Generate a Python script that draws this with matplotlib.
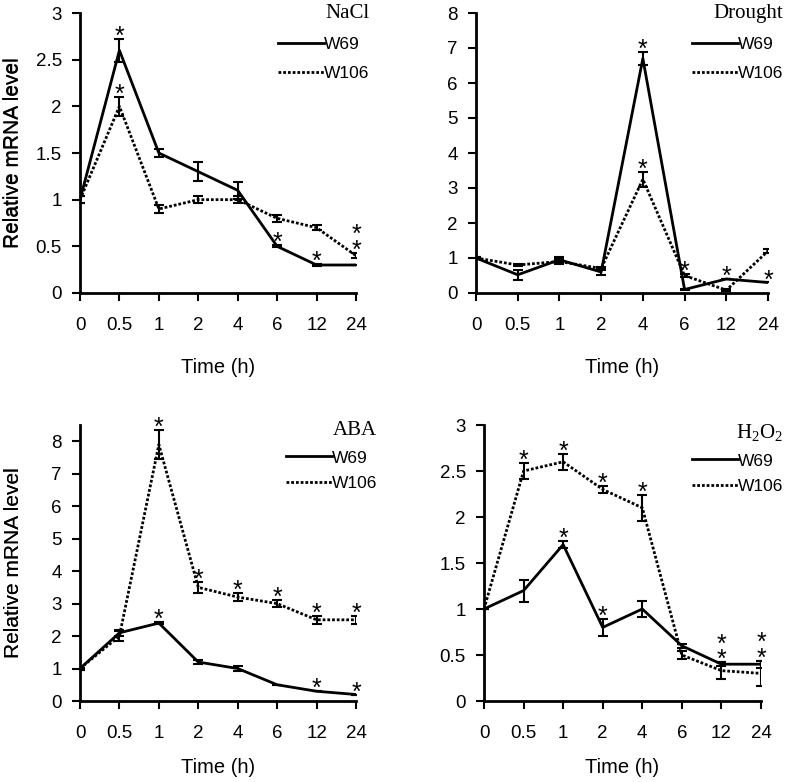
import matplotlib
matplotlib.use("Agg")
import matplotlib.pyplot as plt
import numpy as np
from collections import Counter

plt.rcParams['font.family'] = ['Liberation Sans', 'DejaVu Sans']
plt.rcParams['mathtext.fontset'] = 'custom'
plt.rcParams['mathtext.rm'] = 'Liberation Serif'
plt.rcParams['mathtext.it'] = 'Liberation Serif:italic'

times = ['0', '0.5', '1', '2', '4', '6', '12', '24']
series_names = ['W69', 'W106']

# NaCl
nacl_w69 = [1.0, 2.6, 1.5, 1.3, 1.1, 0.5, 0.3, 0.3]
nacl_w69_err = [0.04, 0.12, 0.04, 0.1, 0.09, 0.01, 0.01, 0.0]
nacl_w106 = [1.0, 2.0, 0.9, 1.0, 1.0, 0.8, 0.7, 0.4]
nacl_w106_err = [0.04, 0.1, 0.04, 0.04, 0.04, 0.04, 0.03, 0.03]
# stars: (time index, series); repeated entries stack
nacl_stars = [(1, 'W69'), (1, 'W106'), (5, 'W69'), (6, 'W69'), (7, 'W106'), (7, 'W106')]

# Drought
dro_w69 = [1.0, 0.52, 0.95, 0.6, 6.7, 0.1, 0.4, 0.3]
dro_w69_err = [0.04, 0.14, 0.07, 0.1, 0.18, 0.02, 0.0, 0.0]
dro_w106 = [1.0, 0.8, 0.9, 0.7, 3.25, 0.5, 0.08, 1.2]
dro_w106_err = [0.03, 0.04, 0.06, 0.04, 0.22, 0.03, 0.02, 0.06]
dro_stars = [(4, 'W69'), (4, 'W106'), (5, 'W106'), (6, 'W69'), (7, 'W69')]

# ABA
aba_w69 = [1.0, 2.1, 2.4, 1.2, 1.0, 0.5, 0.3, 0.2]
aba_w69_err = [0.03, 0.1, 0.04, 0.07, 0.07, 0.0, 0.0, 0.0]
aba_w106 = [1.0, 2.0, 7.9, 3.5, 3.2, 3.0, 2.5, 2.5]
aba_w106_err = [0.03, 0.15, 0.45, 0.17, 0.12, 0.12, 0.12, 0.12]
aba_stars = [(2, 'W106'), (3, 'W106'), (4, 'W106'), (5, 'W106'), (6, 'W106'), (7, 'W106'),
             (2, 'W69'), (6, 'W69'), (7, 'W69')]

# H2O2
h2o2_w69 = [1.0, 1.2, 1.7, 0.8, 1.0, 0.6, 0.4, 0.4]
h2o2_w69_err = [0.0, 0.12, 0.04, 0.09, 0.09, 0.02, 0.02, 0.04]
h2o2_w106 = [1.0, 2.5, 2.6, 2.3, 2.1, 0.5, 0.33, 0.3]
h2o2_w106_err = [0.0, 0.09, 0.09, 0.04, 0.14, 0.04, 0.09, 0.14]
h2o2_stars = [(1, 'W106'), (2, 'W106'), (3, 'W106'), (4, 'W106'),
              (2, 'W69'), (3, 'W69'), (6, 'W69'), (6, 'W69'), (7, 'W69'), (7, 'W69')]

panels = [
    dict(title='NaCl', w69=nacl_w69, e69=nacl_w69_err, w106=nacl_w106, e106=nacl_w106_err,
         stars=nacl_stars, ylim=3, yticks=[0, 0.5, 1, 1.5, 2, 2.5, 3], rect=[80, 13, 356, 293],
         ylabels=['0', '0.5', '1', '1.5', '2', '2.5', '3'], leg=(369, 4, 0.8), xl=362),
    dict(title='Drought', w69=dro_w69, e69=dro_w69_err, w106=dro_w106, e106=dro_w106_err,
         stars=dro_stars, ylim=8, yticks=list(range(9)), rect=[476, 13, 768, 293],
         ylabels=[str(i) for i in range(9)], leg=(783, 4, 0.8), xl=362),
    dict(title='ABA', w69=aba_w69, e69=aba_w69_err, w106=aba_w106, e106=aba_w106_err,
         stars=aba_stars, ylim=8.5, yticks=list(range(9)), rect=[80, 425, 356, 701],
         ylabels=[str(i) for i in range(9)], leg=(377, 421, 0.6), xl=762),
    dict(title=r'$\mathrm{H_2O_2}$', w69=h2o2_w69, e69=h2o2_w69_err, w106=h2o2_w106, e106=h2o2_w106_err,
         stars=h2o2_stars, ylim=3, yticks=[0, 0.5, 1, 1.5, 2, 2.5, 3], rect=[484, 425, 761, 701],
         ylabels=['0', '0.5', '1', '1.5', '2', '2.5', '3'], leg=(783, 422, 0.6), xl=762),
]

W, H = 790, 782
fig = plt.figure(figsize=(W / 100, H / 100), dpi=100)

for p in panels:
    x0, y0, x1, y1 = p['rect']
    ax = fig.add_axes([x0 / W, 1 - y1 / H, (x1 - x0) / W, (y1 - y0) / H])
    x = np.arange(len(times))
    l1, = ax.plot(x, p['w69'], color='black', lw=2.0, ls='-', label='W69', zorder=3)
    l2, = ax.plot(x, p['w106'], color='black', lw=2.0, ls=(0, (1, 0.7)), label='W106', zorder=3)
    ax.errorbar(x, p['w69'], yerr=p['e69'], fmt='none', ecolor='black', elinewidth=1.5,
                capsize=3.5, capthick=1.5, zorder=4)
    ax.errorbar(x, p['w106'], yerr=p['e106'], fmt='none', ecolor='black', elinewidth=1.5,
                capsize=3.5, capthick=1.5, zorder=4)
    vals = {'W69': (p['w69'], p['e69']), 'W106': (p['w106'], p['e106'])}
    for (idx, s), n in Counter(p['stars']).items():
        v, e = vals[s]
        ax.annotate('\n'.join(['*'] * n), xy=(idx, v[idx] + e[idx]), xytext=(0, -3.5),
                    textcoords='offset points', ha='center', va='baseline', fontsize=18,
                    linespacing=0.55, annotation_clip=False, zorder=5)
    ax.set_xlim(0, len(times) - 1)
    ax.set_ylim(0, p['ylim'])
    ax.set_xticks(x)
    ax.set_xticklabels(times)
    ax.set_yticks(p['yticks'])
    ax.set_yticklabels(p['ylabels'])
    for sp in ['top', 'right']:
        ax.spines[sp].set_visible(False)
    for sp in ['left', 'bottom']:
        ax.spines[sp].set_linewidth(2.0)
    ax.tick_params(axis='both', labelsize=13.5, width=1.5, length=6, direction='out')
    ax.tick_params(axis='x', pad=11)
    ax.tick_params(axis='y', pad=7)
    ax.set_xlabel('Time (h)', fontsize=14.5, va='top')
    ax.xaxis.set_label_coords(0.5, -(p['xl'] - 4 - y1) / (y1 - y0))
    ax.set_ylabel('Relative mRNA level', fontsize=15, va='center')
    ax.yaxis.set_label_coords(-(x0 - 13) / (x1 - x0), 0.5)
    lx, ly, lsp = p['leg']
    leg = ax.legend(handles=[l1, l2], title=p['title'], loc='upper right', frameon=False,
                    bbox_to_anchor=(lx / W, 1 - ly / H), bbox_transform=fig.transFigure,
                    borderpad=0, borderaxespad=0, fontsize=12.5, handlelength=2.6,
                    handletextpad=0.0, labelspacing=lsp, alignment='right')
    leg.get_title().set_fontfamily('Liberation Serif')
    leg.get_title().set_fontsize(15)

fig.savefig('out.png', dpi=100)
